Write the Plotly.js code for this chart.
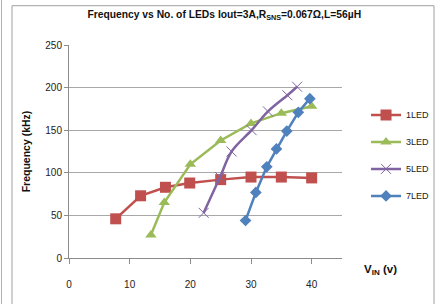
<!DOCTYPE html>
<html>
<head>
<meta charset="utf-8">
<script src="https://cdn.plot.ly/plotly-3.0.1.min.js"></script>
<style>html,body{margin:0;padding:0;background:#fff}#chart{width:438px;height:304px}</style>
</head>
<body>
<div id="chart"></div>
<script>
var seriesNames = ["1LED", "3LED", "5LED", "7LED"];
var vin1 = [7.7, 11.8, 15.9, 19.9, 25, 30, 35, 40];
var freq1 = [46, 73, 83, 88, 92, 95, 95, 94];
var vin3 = [13.5, 15.7, 20, 25, 30, 35, 40];
var freq3 = [27, 65, 110, 138, 158, 170, 178];
var vin5 = [22.2, 24.9, 26.8, 30.1, 32.8, 36, 37.6];
var freq5 = [53, 95, 125, 150, 172, 191, 201];
var vin7 = [29.1, 30.8, 32.6, 34.2, 35.9, 37.8, 39.7];
var freq7 = [44, 77, 107, 128, 149, 171, 187];
var yTicks = [0, 50, 100, 150, 200, 250];
var xTicks = [0, 10, 20, 30, 40];

var FONT = "'Liberation Sans', Arial, sans-serif";

var traces = [
  {x: vin1, y: freq1, name: seriesNames[0], legendgroup: "a", mode: "lines+markers",
   line: {color: "#C0504D", width: 2.5}, marker: {symbol: "square", size: 11, color: "#C0504D"}},
  {x: vin3, y: freq3, name: seriesNames[1], legendgroup: "b", mode: "lines+markers",
   line: {color: "#9BBB59", width: 2.5}, marker: {symbol: "triangle-up", size: 10, color: "#9BBB59"}},
  {x: vin5, y: freq5, name: seriesNames[2], legendgroup: "c", mode: "lines+markers",
   line: {color: "#8064A2", width: 2.5, shape: "spline"}, marker: {symbol: "x-thin-open", size: 10, line: {color: "#8064A2", width: 1}}},
  {x: vin7, y: freq7, name: seriesNames[3], legendgroup: "d", mode: "lines+markers",
   line: {color: "#4F81BD", width: 2.5}, marker: {symbol: "diamond", size: 9, color: "#4F81BD"}}
];

var layout = {
  width: 438, height: 304,
  margin: {l: 69, r: 96, t: 45, b: 46, autoexpand: false},
  paper_bgcolor: "#fff", plot_bgcolor: "#fff",
  font: {family: FONT, size: 10, color: "#222"},
  title: {text: "Frequency vs No. of LEDs Iout=3A,R<sub>SNS</sub>=0.067Ω,L=56µH",
          x: 0.512, xanchor: "center", y: 0.952, yanchor: "middle",
          font: {family: FONT, size: 10.3, color: "#111", weight: "bold"}},
  xaxis: {range: [0, 45], tickvals: xTicks, ticktext: xTicks.map(String),
          showgrid: false, zeroline: false, showline: true, linecolor: "#8c8c8c", linewidth: 1,
          ticks: "outside", ticklen: 5, tickcolor: "#8c8c8c", tickfont: {size: 10, color: "#222"},
          fixedrange: true, ticklabelstandoff: 12},
  yaxis: {range: [0, 250], tickvals: yTicks, ticktext: yTicks.map(String),
          showgrid: true, gridcolor: "#a8a8a8", gridwidth: 1, zeroline: false,
          showline: true, linecolor: "#8c8c8c", linewidth: 1,
          ticks: "outside", ticklen: 4, tickcolor: "#8c8c8c", tickfont: {size: 10, color: "#222"},
          title: {text: "Frequency (kHz)", standoff: 12, font: {family: FONT, size: 10.5, color: "#111", weight: "bold"}}},
  showlegend: true,
  legend: {x: 1.088, xanchor: "left", y: 0.74, yanchor: "top", traceorder: "grouped",
           tracegroupgap: 8, bgcolor: "rgba(0,0,0,0)", font: {family: FONT, size: 9, color: "#222"},
           itemwidth: 30},
  annotations: [
    {text: "V<sub>IN</sub> (v)", xref: "paper", yref: "paper", x: (362 - 69) / 273, y: (258 - 270) / 213.6,
     xanchor: "left", yanchor: "middle", showarrow: false,
     font: {family: FONT, size: 11.5, color: "#111", weight: "bold"}}
  ],
  shapes: [
    {type: "rect", xref: "paper", yref: "paper", x0: (12 - 69) / 273, x1: (434 - 69) / 273,
     y0: (258 - 320) / 213.6, y1: (258 - 5) / 213.6, line: {color: "#a0a0a0", width: 1}},
    {type: "line", xref: "paper", yref: "paper", x0: (1.5 - 69) / 273, x1: (1.5 - 69) / 273,
     y0: (258 - 320) / 213.6, y1: (258 + 10) / 213.6, line: {color: "#b0b0b0", width: 1}}
  ]
};

Plotly.newPlot("chart", traces, layout, {displayModeBar: false, staticPlot: true});
</script>
</body>
</html>
